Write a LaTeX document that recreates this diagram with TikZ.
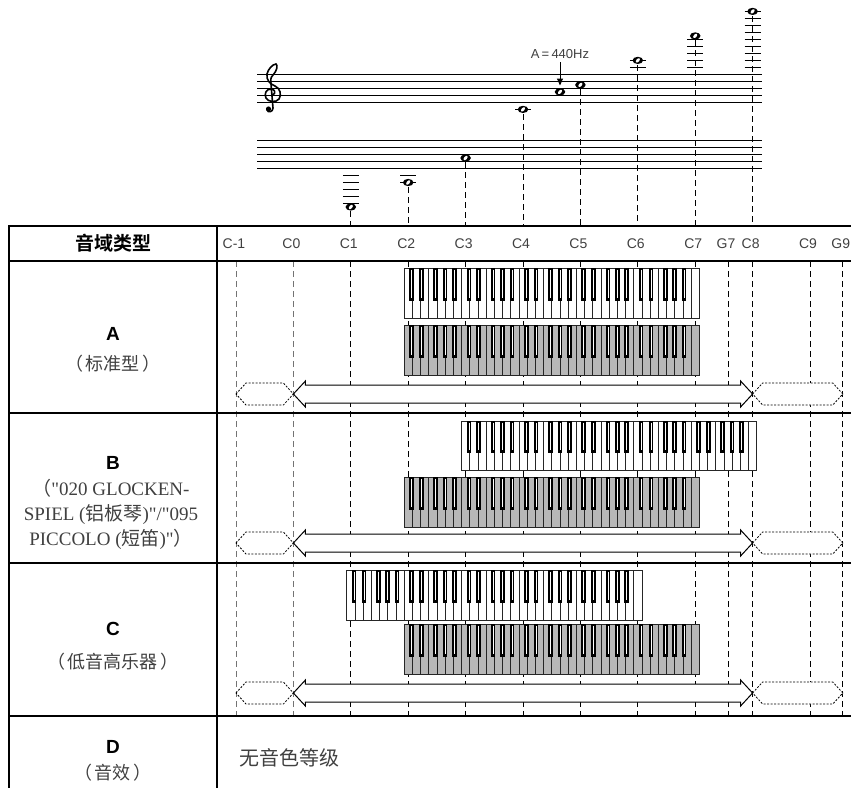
\documentclass[tikz,border=0pt]{standalone}
\usepackage{fontspec}
\setmainfont{Liberation Serif}
\setsansfont{Liberation Sans}
\newfontfamily\plainserif{Liberation Serif}
\newfontfamily\cjk{Noto Sans CJK SC}
\newfontfamily\cjkbf{Noto Sans CJK SC Bold}
\usetikzlibrary{calc,arrows.meta}

\definecolor{keygrey}{gray}{0.72}
\definecolor{textgrey}{gray}{0.25}

% one white key (an octave is 57.4 wide)
\newcommand{\kw}{8.2}
% \pianokeys{left}{top}{bottom}{fill of the white keys}
\newcommand{\pianokeys}[4]{%
\foreach \k in {0,...,35}
  {\filldraw[fill=#4,draw=black!85,line width=0.8pt] ({#1+\k*\kw},#2) rectangle ++(\kw,{#3-#2});}
\foreach \o in {0,...,4}
  \foreach \b in {0.9,2.1,3.85,5,6.15} {
    \fill[black] ({#1+(\o*7+\b)*\kw-2.3},#2) rectangle ++(4.6,{0.66*(#3-#2)});
    \draw[white,line width=0.7pt] ({#1+(\o*7+\b)*\kw},{#2+1.5}) -- ++(0,{0.66*(#3-#2)-4.5});
  }
}
% \rangearrow{centre line}
\newcommand{\rangearrow}[1]{%
\filldraw[fill=white,dash pattern=on 2pt off 1.5pt,line width=0.8pt] (236,#1) -- (246,{#1-11}) -- (283.4,{#1-11}) -- (293.4,#1) -- (283.4,{#1+11}) -- (246,{#1+11}) -- cycle;
\filldraw[fill=white,dash pattern=on 2pt off 1.5pt,line width=0.8pt] (752.6,#1) -- (762.6,{#1-11}) -- (832.8,{#1-11}) -- (842.8,#1) -- (832.8,{#1+11}) -- (762.6,{#1+11}) -- cycle;
\filldraw[fill=white,line width=1pt] (293.4,#1) -- (305.4,{#1-13}) -- (305.4,{#1-9}) -- (740.6,{#1-9}) -- (740.6,{#1-13}) -- (752.6,#1)
  -- (740.6,{#1+13}) -- (740.6,{#1+9}) -- (305.4,{#1+9}) -- (305.4,{#1+13}) -- cycle;
}
% \wholenote{x}{y}
\newcommand{\wholenote}[2]{%
\fill (#1,#2) ellipse [x radius=5.3,y radius=3.6];
\fill[white,rotate around={-40:(#1,#2)}] (#1,#2) ellipse [x radius=1.5,y radius=2.6];
}
\newcommand{\ledger}[2]{\draw[line width=0.9pt] ({#1-8},#2) -- ({#1+8},#2);}
% full-width brackets with some air
\newcommand{\lp}{（\kern3pt}
\newcommand{\rp}{\kern3pt）}

\begin{document}
\begin{tikzpicture}[x=1pt,y=-1pt,
  grid line/.style={dash pattern=on 6pt off 4pt,line width=0.9pt},
  col label/.style={font=\sffamily\fontsize{14}{16}\selectfont,text=black!75},
  type letter/.style={font=\sffamily\bfseries\fontsize{19}{21}\selectfont},
  type name/.style={font=\cjk\fontsize{18}{20}\selectfont,text=textgrey}]
\useasboundingbox (0,0) rectangle (851,788);

% staves
\foreach \y in {0,...,4} {
  \draw[line width=0.9pt] (257,{74.4+7*\y}) -- (762,{74.4+7*\y});
  \draw[line width=0.9pt] (257,{140.5+7*\y}) -- (762,{140.5+7*\y});
}
% treble clef
\draw[line width=1.6pt] (273,95) .. controls (276,93) and (275,89) .. (271,89)
  .. controls (266,89) and (264,94) .. (266,98)
  .. controls (268,102) and (276,103) .. (279,99)
  .. controls (282,95) and (280,88) .. (275,86)
  .. controls (270,84) and (266,80) .. (267,74)
  .. controls (268,69) and (273,64) .. (276,64)
  .. controls (278,65) and (277,71) .. (273,75)
  .. controls (270,78) and (271,80) .. (271,84)
  -- (273,108) .. controls (273,112) and (268,113) .. (267,110);
\fill (268.5,109) circle (2.6);

% ledger lines and notes
\foreach \y in {175.5,182.5,189.5,196.5,203.5} {\ledger{350.8}{\y}}
\foreach \y in {175.5,182.5} {\ledger{408.2}{\y}}
\ledger{523}{109.4}
\foreach \y in {67.4,60.4} {\ledger{637.8}{\y}}
\foreach \y in {67.4,60.4,53.4,46.4,39.4} {\ledger{695.2}{\y}}
\foreach \y in {67.4,60.4,53.4,46.4,39.4,32.4,25.4,18.4,11.4} {\ledger{752.6}{\y}}
\foreach \x/\y in {350.8/207,408.2/182.5,465.6/158,523/109.4,560/91.9,580.4/84.9,637.8/60.4,695.2/35.9,752.6/11.4}
  {\wholenote{\x}{\y}}
\foreach \x/\y in {350.8/211,408.2/187,465.6/162,523/114,580.4/89,637.8/65,695.2/40,752.6/16}
  {\draw[grid line] (\x,\y) -- (\x,226);}

\node[font=\sffamily\fontsize{13}{15}\selectfont,text=textgrey] (a440) at (560,54) {A\,=\,440Hz};
\coordinate (a4top) at (560,85.5);
\draw[-{Triangle[length=7pt,width=6pt]},line width=1pt] (a440) -- (a4top);

% range columns
\foreach \x in {236,293.4}
  {\draw[grid line,black!55] (\x,261) -- (\x,716);}
\foreach \x in {350.8,408.2,465.6,523,580.4,637.8,695.2,728,752.6,810,842.8}
  {\draw[grid line] (\x,261) -- (\x,716);}

\foreach \x/\t [count=\n] in {236/C-1,293.4/C0,350.8/C1,408.2/C2,465.6/C3,523/C4,580.4/C5,637.8/C6,695.2/C7,728/G7,752.6/C8,810/C9,842.8/G9}
  {\node[col label] (col\n) at ({\x-2},244) {\t};}

% keyboards
\pianokeys{404.1}{268}{318}{white}
\pianokeys{404.1}{325}{375}{keygrey}
\pianokeys{461.5}{421}{470}{white}
\pianokeys{404.1}{477}{527}{keygrey}
\pianokeys{346.7}{570}{620}{white}
\pianokeys{404.1}{624}{674}{keygrey}

\rangearrow{394}
\rangearrow{543}
\rangearrow{693}

% table
\draw[line width=2pt] (9,226) -- (851,226);
\draw[line width=2pt] (9,261) -- (851,261);
\foreach \y in {413,563,716}
  {\draw[line width=1.3pt] (9,\y) -- (851,\y);}
\draw[line width=2pt] (9,225) -- (9,788);
\draw[line width=2pt] (217,225) -- (217,788);

\node[font=\cjkbf\fontsize{19}{21}\selectfont] (head) at (113,243) {音域类型};

\node[type letter] (typeA) at (113,334) {A};
\node[type name] (nameA) at (113,364) {\lp 标准型\rp};
\node[type letter] (typeB) at (113,463) {B};
\node[font=\plainserif\fontsize{19}{25}\selectfont,text=textgrey,align=center] (nameB) at (111,514)
  {{\cjk （}"020 GLOCKEN-\\SPIEL ({\cjk 铝板琴})"/"095\\PICCOLO ({\cjk 短笛})"{\cjk ）}};
\node[type letter] (typeC) at (113,629) {C};
\node[type name] (nameC) at (113,662) {\lp 低音高乐器\rp};
\node[type letter] (typeD) at (113,747) {D};
\node[type name] (nameD) at (113,773) {\lp 音效\rp};
\node[font=\cjk\fontsize{20}{22}\selectfont,text=textgrey,anchor=west] (none) at (236,758) {无音色等级};
\end{tikzpicture}
\end{document}
